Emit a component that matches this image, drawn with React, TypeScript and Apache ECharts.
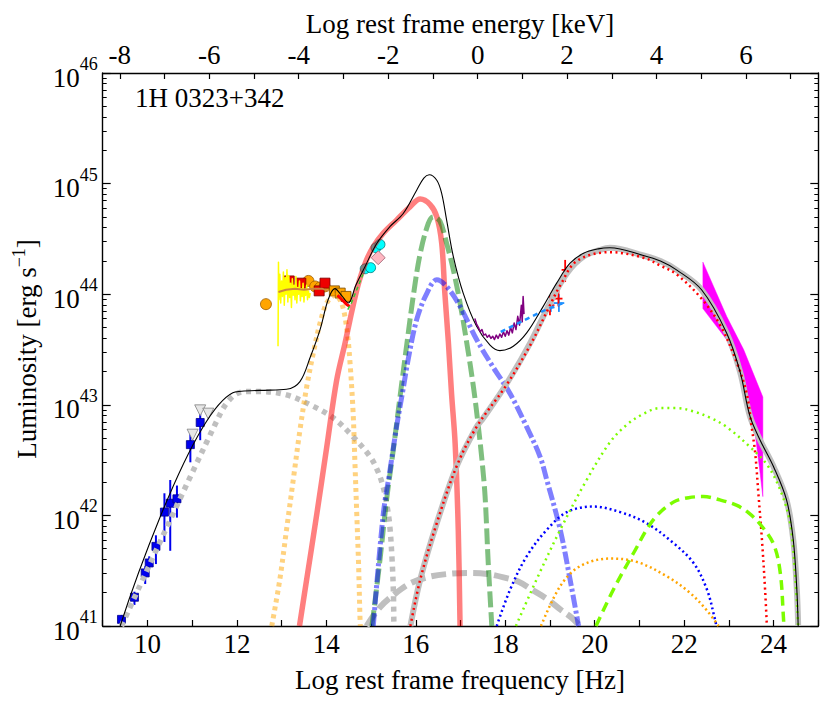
import React, { useEffect, useRef } from 'react';
import * as echarts from 'echarts';

const FONT = '"Liberation Serif", "Times New Roman", serif';
const NU_MIN = 9;
const NU_MAX = 25;
const L_MIN = 41;
const L_MAX = 46;
const KEV_OFFSET = 17.3834; // log10(Hz per keV)

// tick labels
const bottomTickLabels = [10, 12, 14, 16, 18, 20, 22, 24];
const topTicks = [-8, -7, -6, -5, -4, -3, -2, -1, 0, 1, 2, 3, 4, 5, 6, 7];
const topTickLabels = [-8, -6, -4, -2, 0, 2, 4, 6];
const yDecades = [41, 42, 43, 44, 45];
const yMinorFactors = [2, 3, 4, 5, 6, 7, 8, 9];

// model curves [log nu, log L]
const totalModel = [
  [9.39, 41.0], [11.91, 43.11], [12.5, 43.13], [13.11, 43.14], [13.41, 43.21], [13.64, 43.43],
  [13.86, 43.68], [14.04, 43.95], [14.19, 44.05], [14.34, 43.99], [14.49, 43.92], [14.66, 44.08],
  [14.83, 44.22], [15.13, 44.46], [15.42, 44.61], [15.72, 44.73], [16.02, 44.94], [16.18, 45.05],
  [16.30, 45.08], [16.47, 45.03], [16.58, 44.91], [16.69, 44.67], [16.84, 44.34], [17.06, 44.01],
  [17.36, 43.71], [17.66, 43.54], [17.88, 43.49], [18.18, 43.53], [18.48, 43.65], [18.85, 43.89],
  [19.15, 44.10], [19.45, 44.28], [19.75, 44.37], [20.08, 44.41], [20.34, 44.42], [21.09, 44.35],
  [21.47, 44.30], [21.83, 44.22], [22.39, 44.04], [22.95, 43.65], [23.25, 43.30], [23.47, 42.90],
  [23.70, 42.68], [24.0, 42.44], [24.29, 42.14], [24.44, 41.78], [24.52, 41.33], [24.55, 41.0],
];
const comptonTotal = [
  [15.88, 41.0], [16.10, 41.42], [16.47, 41.93], [16.92, 42.45], [17.36, 42.80], [17.51, 42.88],
  [18.03, 43.19], [18.56, 43.56], [19.0, 43.92], [19.38, 44.19], [19.75, 44.34], [20.12, 44.40],
  [20.34, 44.42], [21.09, 44.35], [21.47, 44.30], [21.83, 44.22], [22.39, 44.04], [22.95, 43.65],
  [23.25, 43.30], [23.47, 42.90], [23.70, 42.68], [24.0, 42.44], [24.29, 42.14], [24.44, 41.78],
  [24.52, 41.33], [24.55, 41.0],
];
const externalCompton = [
  [15.88, 41.0], [16.10, 41.42], [16.47, 41.93], [16.92, 42.45], [17.36, 42.80], [18.03, 43.18],
  [18.56, 43.54], [19.0, 43.90], [19.23, 44.08], [19.60, 44.30], [20.34, 44.38], [21.09, 44.33],
  [21.46, 44.26], [21.83, 44.18], [22.39, 43.96], [22.82, 43.71], [23.18, 43.38], [23.40, 43.10],
  [23.51, 42.80], [23.59, 42.56], [23.66, 42.20], [23.74, 41.78], [23.81, 41.33], [23.85, 41.0],
];
const synchrotron = [
  [9.42, 41.0], [11.63, 42.92], [11.92, 43.08], [12.2, 43.12], [12.52, 43.12], [13.11, 43.09],
  [13.64, 43.0], [14.16, 42.88], [14.60, 42.71], [14.98, 42.53], [15.15, 42.40], [15.27, 42.26],
  [15.36, 42.08], [15.42, 41.90], [15.47, 41.6], [15.50, 41.3], [15.51, 41.0],
];
const torus = [
  [12.78, 41.0], [12.96, 41.42], [13.11, 41.87], [13.26, 42.32], [13.41, 42.77], [13.56, 43.16],
  [13.71, 43.47], [13.86, 43.74], [14.01, 43.92], [14.19, 43.99], [14.34, 43.92], [14.46, 43.68],
  [14.53, 43.38], [14.60, 42.92], [14.64, 42.47], [14.68, 42.02], [14.72, 41.57], [14.75, 41.11],
  [14.76, 41.0],
];
const disk = [
  [13.40, 41.0], [13.56, 41.42], [13.79, 42.02], [14.01, 42.62], [14.23, 43.22], [14.42, 43.56],
  [14.53, 43.77], [14.64, 43.97], [14.75, 44.14], [14.90, 44.31], [15.05, 44.43], [15.27, 44.55],
  [15.57, 44.67], [15.87, 44.79], [16.10, 44.86], [16.32, 44.81], [16.47, 44.70], [16.58, 44.46],
  [16.65, 44.01], [16.73, 43.56], [16.80, 43.10], [16.88, 42.65], [16.95, 41.87], [16.99, 41.0],
];
const corona = [
  [15.02, 41.0], [15.20, 41.6], [15.35, 42.15], [15.50, 42.6], [15.65, 43.08], [15.80, 43.55],
  [15.95, 44.0], [16.10, 44.37], [16.28, 44.64], [16.39, 44.70], [16.54, 44.66], [16.69, 44.46],
  [16.84, 44.22], [16.99, 43.92], [17.14, 43.56], [17.29, 43.16], [17.40, 42.80], [17.48, 42.50],
  [17.55, 42.17], [17.62, 41.57], [17.70, 41.0],
];
const reflection = [
  [15.05, 41.0], [15.27, 42.0], [15.42, 42.4], [15.57, 42.8], [15.72, 43.15], [15.83, 43.41],
  [16.02, 43.77], [16.25, 44.01], [16.47, 44.13], [16.69, 44.07], [16.99, 43.89], [17.36, 43.59],
  [17.73, 43.34], [18.11, 43.10], [18.48, 42.80], [18.78, 42.53], [18.93, 42.32], [19.23, 41.87],
  [19.45, 41.42], [19.64, 41.0],
];
const sscBump = [
  [14.90, 41.0], [15.20, 41.17], [15.50, 41.28], [15.85, 41.38], [16.25, 41.44], [16.7, 41.47],
  [17.21, 41.48], [17.6, 41.47], [17.96, 41.44], [18.30, 41.40], [18.63, 41.32], [18.95, 41.24],
  [19.23, 41.15], [19.47, 41.08], [19.67, 41.0],
];
const ecDisk = [
  [17.81, 41.0], [18.11, 41.33], [18.48, 41.63], [18.93, 41.87], [19.38, 42.03], [19.97, 42.08],
  [20.57, 42.03], [21.16, 41.93], [21.76, 41.75], [22.21, 41.57], [22.51, 41.33], [22.69, 41.06],
  [22.72, 41.0],
];
const ecCorona = [
  [18.80, 41.0], [19.23, 41.36], [19.67, 41.54], [20.34, 41.61], [20.94, 41.58], [21.61, 41.45],
  [22.13, 41.30], [22.51, 41.14], [22.77, 41.0],
];
const ecBlr = [
  [18.24, 41.0], [18.70, 41.42], [19.23, 41.87], [19.82, 42.32], [20.34, 42.66], [20.72, 42.82],
  [21.10, 42.92], [21.46, 42.97], [21.85, 42.97], [22.21, 42.94], [22.60, 42.88], [22.95, 42.80],
  [23.47, 42.62], [23.85, 42.46], [24.15, 42.23], [24.37, 41.93], [24.48, 41.48], [24.55, 41.0],
];
const ecTorus = [
  [20.03, 41.0], [20.42, 41.33], [20.87, 41.66], [21.31, 41.96], [21.76, 42.12], [22.1, 42.16],
  [22.43, 42.17], [22.8, 42.14], [23.18, 42.09], [23.45, 42.02], [23.70, 41.92], [24.0, 41.74],
  [24.15, 41.48], [24.22, 41.08], [24.23, 41.0],
];

// Fermi butterfly
const butterflyUpper = [[22.42, 44.29], [22.95, 43.80], [23.33, 43.50], [23.76, 43.07]];
const butterflyLower = [[22.42, 43.87], [22.95, 43.59], [23.33, 43.22], [23.55, 42.86], [23.70, 42.38], [23.76, 42.17]];

// observed data
const radioNu = [9.42, 9.71, 9.95, 10.04, 10.19, 10.38, 10.51, 10.66, 10.96, 11.18];
const radioL = [41.06, 41.26, 41.48, 41.57, 41.72, 42.03, 42.11, 42.15, 42.64, 42.84];
const radioLo = [41.0, 41.19, 41.38, 41.52, 41.56, 41.76, 41.68, 41.98, 42.48, 42.68];
const radioHi = [41.1, 41.31, 41.54, 41.63, 41.82, 42.20, 42.32, 42.27, 42.74, 42.92];
const upperLimNu = [11.01, 11.18, 11.36];
const upperLimL = [42.73, 42.95, 42.92];

const yellowNu = [12.92, 12.93, 12.94, 12.96, 12.98, 13.00, 13.02, 13.04, 13.06, 13.08, 13.10, 13.12, 13.14, 13.16, 13.18, 13.20, 13.22, 13.24, 13.26, 13.28, 13.30, 13.32, 13.34, 13.36, 13.38, 13.40, 13.42, 13.44, 13.46, 13.48, 13.50, 13.52, 13.54, 13.56, 13.58, 13.60, 13.62, 13.64];
const yellowL = [43.53, 44.29, 43.95, 44.18, 43.92, 44.12, 43.98, 44.20, 43.90, 44.15, 44.00, 44.22, 43.93, 44.17, 43.97, 44.10, 43.88, 44.14, 43.99, 44.08, 43.95, 44.16, 43.92, 44.06, 44.00, 44.12, 43.94, 44.05, 43.98, 44.10, 43.93, 44.04, 43.99, 44.08, 43.95, 44.03, 43.97, 44.01];
const brownSpec = [[12.93, 44.02], [13.1, 44.04], [13.3, 44.05], [13.5, 44.04], [13.7, 44.05], [13.9, 44.05], [14.05, 44.03]];
const redSpec = [[14.25, 43.99], [14.35, 43.95], [14.45, 43.91], [14.52, 43.89]];
const limeSpec = [[14.48, 43.86], [14.56, 43.92], [14.64, 44.0], [14.72, 44.08], [14.82, 44.18]];
const purpleNu = [17.32, 17.36, 17.40, 17.44, 17.48, 17.52, 17.56, 17.60, 17.64, 17.68, 17.72, 17.76, 17.80, 17.84, 17.88, 17.92, 17.96, 18.00, 18.04, 18.08, 18.12, 18.16, 18.20, 18.24, 18.28, 18.32, 18.36, 18.38, 18.40, 18.42];
const purpleL = [43.78, 43.73, 43.70, 43.66, 43.68, 43.63, 43.64, 43.61, 43.63, 43.60, 43.62, 43.59, 43.63, 43.60, 43.64, 43.61, 43.66, 43.62, 43.67, 43.63, 43.70, 43.65, 43.74, 43.68, 43.80, 43.72, 43.90, 43.75, 43.98, 43.82];
const batSpec = [[17.9, 43.66], [18.2, 43.72], [18.5, 43.78], [18.8, 43.84], [19.1, 43.89], [19.3, 43.92]];

const orangeCircles = [[12.65, 43.91], [13.60, 44.12], [13.75, 44.07], [13.86, 44.06], [13.96, 44.07]];
const redSquares = [[13.17, 44.12], [13.43, 44.10], [13.84, 44.03], [13.97, 44.10]];
const orangeSquares = [[14.18, 44.03], [14.31, 44.01], [14.44, 43.98]];
const cyanCircles = [[14.87, 44.23], [14.99, 44.24], [15.11, 44.42], [15.20, 44.45]];
const pinkDiamonds = [[15.16, 44.33]];
// crosses: [nu, L, nuLo, nuHi, Llo, Lhi]
const redCrosses = [
  [19.0, 43.90, 18.91, 19.10, 43.81, 43.99],
  [19.19, 43.96, 19.11, 19.28, 43.89, 44.05],
  [19.34, 44.22, 19.26, 19.45, 44.11, 44.31],
];
const blueCrosses = [
  [19.02, 43.88, 18.95, 19.10, 43.84, 43.93],
  [19.20, 43.92, 19.08, 19.32, 43.84, 44.00],
];

function toPairs(xs: number[], ys: number[]) {
  return xs.map((x, i) => [x, ys[i]]);
}

function curve(data: number[][], color: string, width: number, type: any, smooth: number | boolean = 0.35) {
  return {
    type: 'line',
    data,
    showSymbol: false,
    symbol: 'none',
    smooth,
    clip: true,
    silent: true,
    lineStyle: { color, width, type, cap: 'butt', join: 'round' },
  };
}

function scatter(data: number[][], symbol: string, size: number, color: string, border: string, rotate = 0) {
  return {
    type: 'scatter',
    data,
    symbol,
    symbolSize: size,
    symbolRotate: rotate,
    silent: true,
    itemStyle: { color, borderColor: border, borderWidth: 0.8, opacity: 1 },
  };
}

function crossSeries(data: number[][], color: string) {
  return {
    type: 'custom',
    data,
    silent: true,
    encode: { x: 0, y: 1 },
    renderItem: (_p: any, api: any) => {
      const a = api.coord([api.value(2), api.value(1)]);
      const b = api.coord([api.value(3), api.value(1)]);
      const c = api.coord([api.value(0), api.value(4)]);
      const d = api.coord([api.value(0), api.value(5)]);
      return {
        type: 'group',
        children: [
          { type: 'line', shape: { x1: a[0], y1: a[1], x2: b[0], y2: b[1] }, style: { stroke: color, lineWidth: 1.8 } },
          { type: 'line', shape: { x1: c[0], y1: c[1], x2: d[0], y2: d[1] }, style: { stroke: color, lineWidth: 1.8 } },
        ],
      };
    },
  };
}

export default function App() {
  const ref = useRef<HTMLDivElement>(null);
  useEffect(() => {
    if (!ref.current) return;
    const chart = echarts.init(ref.current, null, { renderer: 'svg' });
    const minorTicks: number[] = [];
    yDecades.forEach((d) => yMinorFactors.forEach((k) => minorTicks.push(d + Math.log10(k))));
    const majorTicks = [...yDecades, L_MAX];

    const tickLabelStyle = { fontFamily: FONT, fontSize: 27, color: '#000' };
    const axisLine = { show: true, onZero: false, lineStyle: { color: '#000', width: 1.4 } };
    const noLine = { show: false, onZero: false };

    const radioErr = radioNu.map((n, i) => [n, radioLo[i], radioHi[i]]);
    const butterflyPts = [...butterflyUpper, ...butterflyLower.slice().reverse()];

    const option: any = {
      animation: false,
      backgroundColor: '#fff',
      grid: { left: 102.7, right: 11.7, top: 73, bottom: 81, containLabel: false },
      xAxis: [
        {
          type: 'value', min: NU_MIN, max: NU_MAX, interval: 1, position: 'bottom',
          axisLine, splitLine: { show: false },
          axisTick: { show: true, inside: true, length: 6, lineStyle: { color: '#000', width: 1.2 } },
          axisLabel: { ...tickLabelStyle, margin: 4, customValues: bottomTickLabels, formatter: (v: number) => String(v) },
        },
        {
          type: 'value', min: NU_MIN - KEV_OFFSET, max: NU_MAX - KEV_OFFSET, position: 'top',
          axisLine, splitLine: { show: false },
          axisTick: { show: true, inside: true, length: 6, customValues: topTicks, lineStyle: { color: '#000', width: 1.2 } },
          axisLabel: { ...tickLabelStyle, margin: 5, customValues: topTickLabels, formatter: (v: number) => String(v) },
        },
      ],
      yAxis: [
        {
          type: 'value', min: L_MIN, max: L_MAX, interval: 1, position: 'left',
          axisLine, splitLine: { show: false },
          axisTick: { show: true, inside: true, length: 8, lineStyle: { color: '#000', width: 1.2 } },
          axisLabel: {
            margin: 5,
            formatter: (v: number) => `{b|10}{s|${v}}`,
            rich: {
              b: { fontFamily: FONT, fontSize: 27, color: '#000', lineHeight: 36, verticalAlign: 'bottom' },
              s: { fontFamily: FONT, fontSize: 18, color: '#000', lineHeight: 36, verticalAlign: 'top' },
            },
          },
        },
        {
          type: 'value', min: L_MIN, max: L_MAX, position: 'left',
          axisLine: noLine, splitLine: { show: false }, axisLabel: { show: false },
          axisTick: { show: true, inside: true, length: 4, customValues: minorTicks, lineStyle: { color: '#000', width: 1 } },
        },
        {
          type: 'value', min: L_MIN, max: L_MAX, position: 'right',
          axisLine, splitLine: { show: false }, axisLabel: { show: false },
          axisTick: { show: true, inside: true, length: 8, customValues: majorTicks, lineStyle: { color: '#000', width: 1.2 } },
        },
        {
          type: 'value', min: L_MIN, max: L_MAX, position: 'right',
          axisLine: noLine, splitLine: { show: false }, axisLabel: { show: false },
          axisTick: { show: true, inside: true, length: 4, customValues: minorTicks, lineStyle: { color: '#000', width: 1 } },
        },
      ],
      graphic: [
        { type: 'text', x: 135, y: 98, style: { text: '1H 0323+342', fontFamily: FONT, fontSize: 27, fill: '#000', align: 'left', verticalAlign: 'middle' } },
        { type: 'text', x: 460, y: 680, style: { text: 'Log rest frame frequency [Hz]', fontFamily: FONT, fontSize: 27, fill: '#000', align: 'center', verticalAlign: 'middle' } },
        { type: 'text', x: 460, y: 24, style: { text: 'Log rest frame energy [keV]', fontFamily: FONT, fontSize: 27, fill: '#000', align: 'center', verticalAlign: 'middle' } },
        {
          type: 'text', x: 27, y: 349, rotation: Math.PI / 2,
          style: {
            text: 'Luminosity [erg s{s|−1}]', fontFamily: FONT, fontSize: 27, fill: '#000', align: 'center', verticalAlign: 'middle',
            rich: { s: { fontFamily: FONT, fontSize: 18, fill: '#000', verticalAlign: 'top', lineHeight: 34 } },
          },
        },
      ],
      series: [
        {
          type: 'custom', data: [[23, 43]], silent: true, encode: { x: 0, y: 1 },
          renderItem: (_p: any, api: any) => ({
            type: 'polygon',
            shape: { points: butterflyPts.map((pt) => api.coord(pt)) },
            style: { fill: '#ff00ff', stroke: '#ff00ff', lineWidth: 0.5 },
          }),
        },
        curve(sscBump, '#bfbfbf', 6, [15, 6]),
        curve(synchrotron, '#bfbfbf', 5.5, [5, 5]),
        curve(torus, 'rgba(255,165,0,0.5)', 5, [4, 4]),
        curve(disk, 'rgba(255,0,0,0.5)', 5.5, 'solid'),
        curve(corona, 'rgba(0,128,0,0.5)', 5, [16, 5]),
        curve(reflection, 'rgba(0,0,255,0.5)', 5, [13, 3, 3, 3]),
        curve(comptonTotal, '#bfbfbf', 6, 'solid'),
        curve(externalCompton, '#ff0000', 2.5, [2, 3.5]),
        curve(ecDisk, '#0000ff', 2.5, [2, 3]),
        curve(ecCorona, '#ffa500', 2.5, [2, 3]),
        curve(ecBlr, '#7cfc00', 2.5, [2, 4]),
        curve(ecTorus, '#7cfc00', 3.5, [10, 6]),
        curve(totalModel, '#000000', 1.1, 'solid'),
        curve(toPairs(yellowNu, yellowL), '#ffff00', 1.5, 'solid', false),
        curve(brownSpec, '#cd853f', 2, 'solid', false),
        curve(redSpec, '#ff0000', 3, 'solid', false),
        curve(limeSpec, '#32cd32', 1.5, [4, 3], false),
        curve(toPairs(purpleNu, purpleL), '#800080', 1.5, 'solid', false),
        curve(batSpec, '#1e90ff', 2.5, [5, 4], false),
        {
          type: 'custom', data: radioErr, silent: true, encode: { x: 0, y: [1, 2] },
          renderItem: (_p: any, api: any) => {
            const a = api.coord([api.value(0), api.value(1)]);
            const b = api.coord([api.value(0), api.value(2)]);
            return { type: 'line', shape: { x1: a[0], y1: a[1], x2: b[0], y2: b[1] }, style: { stroke: '#0000ee', lineWidth: 2 } };
          },
        },
        crossSeries(blueCrosses, '#1e90ff'),
        crossSeries(redCrosses, '#ff0000'),
        scatter(toPairs(radioNu, radioL), 'rect', 8, '#0000ee', '#00008b'),
        scatter(toPairs(upperLimNu, upperLimL), 'triangle', 11, '#e6e6e6', '#808080', 180),
        scatter(orangeCircles, 'circle', 11, '#ffa500', '#9a5b00'),
        scatter(redSquares, 'rect', 10, '#ee0000', '#7a0000'),
        scatter(orangeSquares, 'rect', 10, '#ffa500', '#7a4a00'),
        scatter(cyanCircles, 'circle', 10, '#00ffff', '#007b7b'),
        scatter(pinkDiamonds, 'diamond', 14, '#ffb6c1', '#9a6070'),
      ],
    };
    chart.setOption(option);
    return () => chart.dispose();
  }, []);
  return <div ref={ref} style={{ position: 'fixed', left: 0, top: 0, width: 830, height: 707, background: '#fff' }} />;
}
